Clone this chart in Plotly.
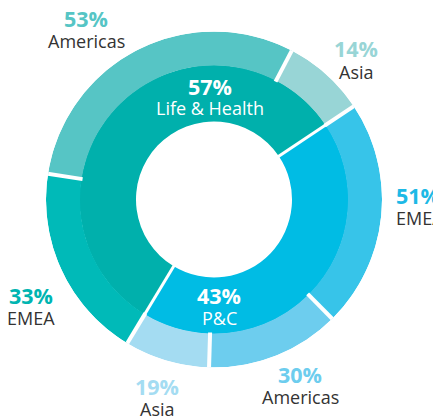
import plotly.graph_objects as go

# ---------------- data ----------------
segments = ["P&C", "Life & Health"]
segment_share = [43, 57]

pc_regions = ["EMEA", "Americas", "Asia"]
pc_region_share = [51, 30, 19]

lh_regions = ["EMEA", "Americas", "Asia"]
lh_region_share = [33, 53, 14]

# ---------------- style ----------------
segment_colors = ["#00bce4", "#00b0ac"]
pc_colors = ["#37c4e9", "#6dcdee", "#a4dcf2"]
lh_colors = ["#00bab8", "#56c5c5", "#98d5d6"]
pc_text_colors = ["#1db9e6", "#6dcdee", "#a4dcf2"]
lh_text_colors = ["#00b5b1", "#56c5c5", "#98d5d6"]

OFF = 8                      # page body margin of the browser
W, H = 441 - OFF, 417 - OFF
START = 56.3                 # angle (deg, clockwise from 12 o'clock) where P&C starts
R_HOLE, R_MID, R_OUT = 78, 134, 168
CX, CY = 214, 199.5          # pixel centre in the page
FONT = "Open Sans"


def px(x, y):
    return (x - OFF) / W, 1 - (y - OFF) / H


# ---------------- geometry from data ----------------
inner_theta, inner_width = [], []
outer_theta, outer_width, outer_colors = [], [], []
inner_bounds, outer_bounds = [], []
cum = START
for seg, share, sub_share, sub_cols in zip(
        segments, segment_share, [pc_region_share, lh_region_share], [pc_colors, lh_colors]):
    span = share * 3.6
    inner_theta.append(cum + span / 2)
    inner_width.append(span)
    inner_bounds.append(cum)
    sub_cum = cum
    for i, (s, c) in enumerate(zip(sub_share, sub_cols)):
        sspan = span * s / 100
        outer_theta.append(sub_cum + sspan / 2)
        outer_width.append(sspan)
        outer_colors.append(c)
        if i > 0:
            outer_bounds.append(sub_cum)
        sub_cum += sspan
    cum += span

fig = go.Figure()
fig.add_trace(go.Barpolar(
    theta=inner_theta, width=inner_width,
    r=[R_MID - R_HOLE + 0.5] * len(inner_theta), base=[R_HOLE] * len(inner_theta),
    marker=dict(color=segment_colors, line=dict(width=0)),
    hoverinfo="skip"))
fig.add_trace(go.Barpolar(
    theta=outer_theta, width=outer_width,
    r=[R_OUT - R_MID] * len(outer_theta), base=[R_MID] * len(outer_theta),
    marker=dict(color=outer_colors, line=dict(width=0)),
    hoverinfo="skip"))

# white separators
gr, gt = [], []
for a in inner_bounds:
    gr += [R_HOLE - 2, R_MID + 1, None]
    gt += [a, a, None]
fig.add_trace(go.Scatterpolar(r=gr, theta=gt, mode="lines",
                              line=dict(color="white", width=3), hoverinfo="skip"))
gr, gt = [], []
for a in inner_bounds + outer_bounds:
    gr += [R_MID - 1, R_OUT + 2, None]
    gt += [a, a, None]
fig.add_trace(go.Scatterpolar(r=gr, theta=gt, mode="lines",
                              line=dict(color="white", width=4), hoverinfo="skip"))

annotations = []


def label(x, y, pct, name, pct_color, name_color, anchor="center"):
    ax, ay = px(x, y)
    annotations.append(dict(x=ax, y=ay, xref="paper", yref="paper", xanchor=anchor,
                            yanchor="middle", showarrow=False, text="<b>%d%%</b>" % pct,
                            font=dict(family=FONT, size=21.5, color=pct_color)))
    ax, ay = px(x, y + 22.5)
    annotations.append(dict(x=ax, y=ay, xref="paper", yref="paper", xanchor=anchor,
                            yanchor="middle", showarrow=False, text=name,
                            font=dict(family=FONT, size=18, color=name_color)))


# inner labels
label(210, 86, segment_share[1], segments[1], "white", "white")
label(219, 295, segment_share[0], segments[0], "white", "white")
# outer labels
dark = "#333333"
label(394, 195, pc_region_share[0], pc_regions[0], pc_text_colors[0], dark, anchor="left")
label(300, 374, pc_region_share[1], pc_regions[1], pc_text_colors[1], dark)
label(157, 386, pc_region_share[2], pc_regions[2], pc_text_colors[2], dark)
label(31, 295, lh_region_share[0], lh_regions[0], lh_text_colors[0], dark)
label(86, 18, lh_region_share[1], lh_regions[1], lh_text_colors[1], dark)
label(356, 49, lh_region_share[2], lh_regions[2], lh_text_colors[2], dark)

x0, y1 = px(CX - R_OUT, CY - R_OUT)
x1, y0 = px(CX + R_OUT, CY + R_OUT)
fig.update_layout(
    width=W, height=H, margin=dict(l=0, r=0, t=0, b=0),
    paper_bgcolor="white", plot_bgcolor="white", showlegend=False,
    polar=dict(
        domain=dict(x=[x0, x1], y=[y0, y1]),
        bgcolor="white", hole=0, bargap=0,
        radialaxis=dict(range=[0, R_OUT], visible=False),
        angularaxis=dict(visible=False, rotation=90, direction="clockwise"),
    ),
    annotations=annotations,
)

fig.write_html("out.html")
